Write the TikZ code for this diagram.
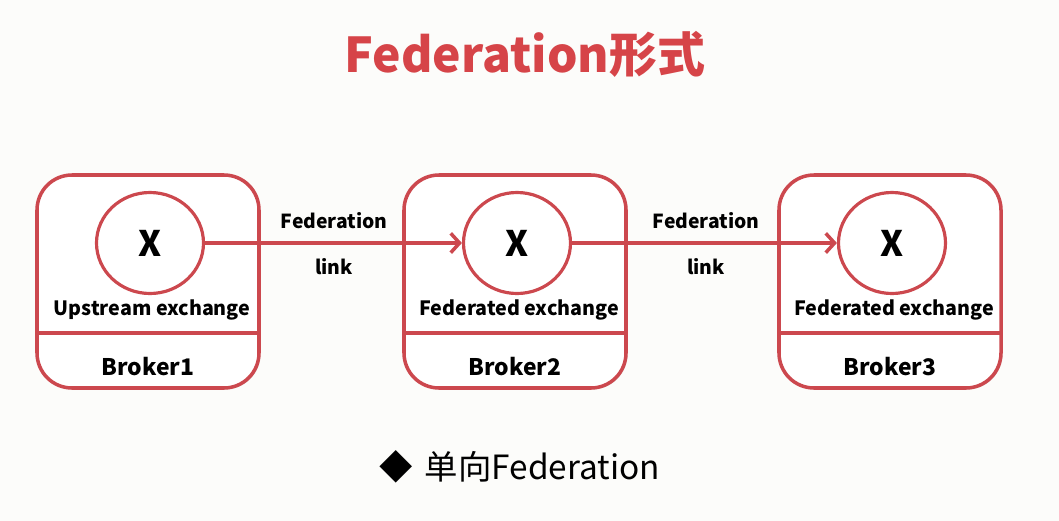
\documentclass[tikz,border=0pt]{standalone}
\usepackage{fontspec}
\setmainfont{Noto Sans CJK SC}
\usetikzlibrary{arrows.meta, shapes.geometric, shadows}

\definecolor{fedred}{RGB}{204,72,78}
\definecolor{titlered}{RGB}{214,68,72}
\definecolor{paper}{RGB}{252,252,250}

\tikzset{
  brokerbox/.style={draw=fedred, line width=2pt, fill=white, rounded corners=0.7cm,
    minimum width=4.44cm, minimum height=4.26cm,
    drop shadow={opacity=0.25, shadow xshift=0.8pt, shadow yshift=-0.8pt}},
  exch/.style={ellipse, draw=fedred, line width=1.8pt, fill=white, minimum width=2.14cm,
    minimum height=2.02cm, inner sep=0pt, font=\bfseries\fontsize{20}{20}\selectfont},
  exlabel/.style={font=\bfseries\fontsize{11.2}{12}\selectfont},
  brokerlabel/.style={font=\bfseries\fontsize{13}{14}\selectfont},
  linklabel/.style={font=\bfseries\fontsize{11}{12}\selectfont},
  link/.style={->, draw=fedred, line width=2pt},
}

\begin{document}
\begin{tikzpicture}[>={Straight Barb[length=5pt, width=11pt]}]

% Page
\fill[paper] (0,0) rectangle (21.18,-10.42);
\useasboundingbox (0,0) rectangle (21.18,-10.42);

% Title
\node[font=\bfseries\fontsize{27.3}{30}\selectfont, text=titlered] (title) at (10.5,-1.08) {Federation形式};

% Brokers with their exchanges
\foreach \n/\x/\lab in {1/2.96/Upstream exchange, 2/10.3/Federated exchange, 3/17.8/Federated exchange} {
  \node[brokerbox] (b\n) at (\x,-5.63) {};
  \draw[fedred, line width=2pt] (b\n.west |- 0,-6.66) -- (b\n.east |- 0,-6.66);
  \node[exch] (x\n) at (\x+0.04,-4.86) {X};
  \node[exlabel] (l\n) at (\x+0.08,-6.2) {\lab};
  \node[brokerlabel] (n\n) at (\x,-7.34) {Broker\n};
}

% Federation links
\draw[link] (x1) -- (x2);
\draw[link] (x2) -- (x3);
\node[linklabel] (f1) at (6.68,-4.42) {Federation};
\node[linklabel] (k1) at (6.68,-5.34) {link};
\node[linklabel] (f2) at (14.12,-4.42) {Federation};
\node[linklabel] (k2) at (14.12,-5.34) {link};

% Caption
\node[font=\fontsize{19}{22}\selectfont] (cap) at (10.4,-9.34) {◆\hspace{0.35em}单向Federation};

\end{tikzpicture}
\end{document}
